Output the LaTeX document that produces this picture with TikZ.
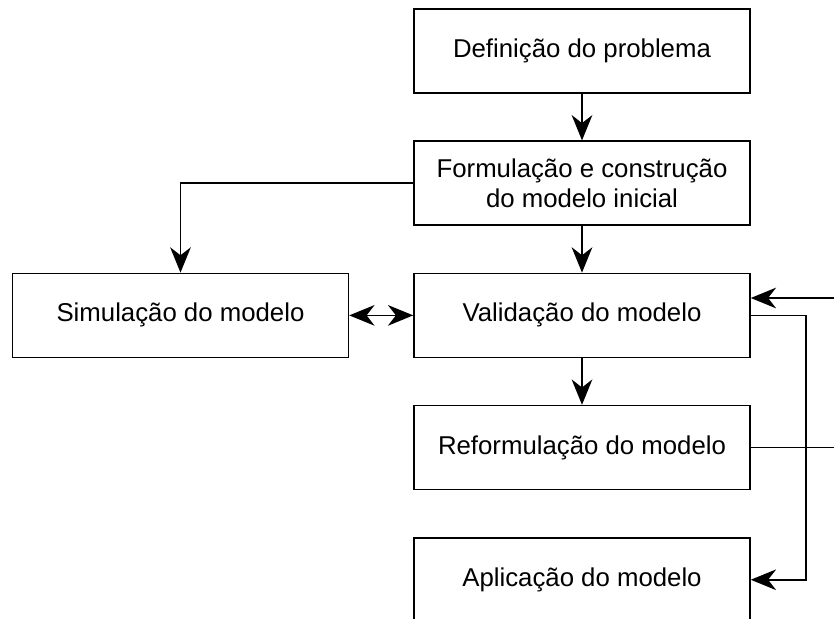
\documentclass[tikz,border=0pt]{standalone}
\usepackage{fontspec}
\setmainfont{Liberation Sans}
\usetikzlibrary{arrows.meta, positioning, calc}

\begin{document}
\begin{tikzpicture}[
    stage/.style={draw, line width=1.3pt, minimum width=10.08cm, minimum height=2.52cm,
      align=center, font=\fontsize{22}{25.6}\selectfont},
    link/.style={line width=1.4pt},
    arr/.style={link, -{Stealth[length=0.76cm, width=0.62cm, inset=0.24cm]}},
    twoarr/.style={link, {Stealth[length=0.76cm, width=0.62cm, inset=0.24cm]}-{Stealth[length=0.76cm, width=0.62cm, inset=0.24cm]}},
    node distance=1.4cm
  ]
  \useasboundingbox (0,0) rectangle (25.02,-18.57);

  % main column
  \node[stage] (def) at (17.46,-1.53) {Definição do problema};
  \node[stage, below=of def] (form) {Formulação e construção\\do modelo inicial};
  \node[stage, below=of form] (valid) {Validação do modelo};
  \node[stage, below=of valid] (reform) {Reformulação do modelo};
  \node[stage, below=of reform] (apl) {Aplicação do modelo};
  \node[stage, left=1.92cm of valid] (sim) {Simulação do modelo};

  % free ends at the right margin
  \coordinate (fbk) at (25.02,-8.94);
  \coordinate (rout) at (25.02,0 |- reform.east);
  \coordinate (bend) at (24.18,0 |- valid.east);

  \draw[arr] (def) -- (form);
  \draw[arr] (form) -- (valid);
  \draw[arr] (valid) -- (reform);
  \draw[arr] (form.west) -| (sim.north);
  \draw[twoarr] (sim) -- (valid);
  \draw[arr] (fbk) -- (valid.east |- fbk);
  \draw[link] (reform.east) -- (rout);
  \draw[arr] (valid.east) -- (bend) |- (apl.east);
\end{tikzpicture}
\end{document}
